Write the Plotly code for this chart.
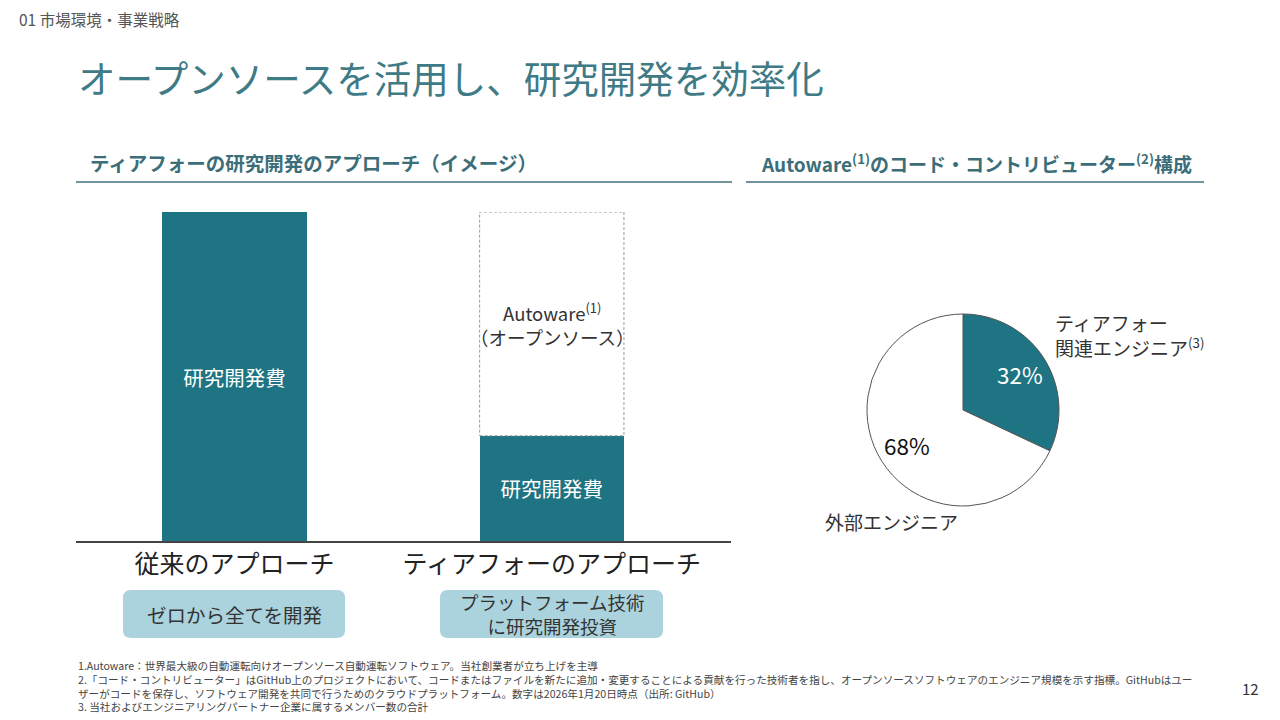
import plotly.graph_objects as go

# --- data ---
categories = ["従来のアプローチ", "ティアフォーのアプローチ"]
rd_cost = [100, 32]          # 研究開発費
open_source = [0, 68]        # Autoware (オープンソース)
bar_labels = ["研究開発費", "研究開発費"]
os_labels = ["", "Autoware<sup>(1)</sup><br>（オープンソース）"]
captions = ["ゼロから全てを開発", "プラットフォーム技術<br>に研究開発投資"]

pie_labels = ["ティアフォー<br>関連エンジニア<sup>(3)</sup>", "外部エンジニア"]
pie_values = [32, 68]

footnotes = [
    "1.Autoware：世界最大級の自動運転向けオープンソース自動運転ソフトウェア。当社創業者が立ち上げを主導",
    "2.「コード・コントリビューター」はGitHub上のプロジェクトにおいて、コードまたはファイルを新たに追加・変更することによる貢献を行った技術者を指し、オープンソースソフトウェアのエンジニア規模を示す指標。GitHubはユー",
    "ザーがコードを保存し、ソフトウェア開発を共同で行うためのクラウドプラットフォーム。数字は2026年1月20日時点（出所: GitHub）",
    "3. 当社およびエンジニアリングパートナー企業に属するメンバー数の合計",
]

TEAL = "#1e7482"
PILL = "#abd3de"
FONT = "Noto Sans CJK JP"
W, H = 1280, 720


def px(x):
    return x / W


def py(y):
    return 1 - y / H


def rounded(x0, y0, x1, y1, r):
    # rounded rectangle path in paper coords, given pixel box
    a, b, c, d = px(x0), py(y0), px(x1), py(y1)
    rx, ry = r / W, r / H
    return (f"M{a+rx},{b} L{c-rx},{b} Q{c},{b} {c},{b-ry} L{c},{d+ry} Q{c},{d} {c-rx},{d} "
            f"L{a+rx},{d} Q{a},{d} {a},{d+ry} L{a},{b-ry} Q{a},{b} {a+rx},{b} Z")


BAR_W = 0.455
fig = go.Figure()

fig.add_trace(go.Bar(
    x=categories, y=rd_cost, width=BAR_W, marker=dict(color=TEAL, line=dict(width=0)),
    text=bar_labels, textposition="inside", insidetextanchor="middle",
    textfont=dict(color="white", size=20.5, family=FONT), textangle=0, showlegend=False,
    hoverinfo="skip",
))
fig.add_trace(go.Bar(
    x=categories, y=open_source, width=BAR_W, marker=dict(color="white", line=dict(width=0)),
    showlegend=False, hoverinfo="skip",
))

annotations = []

# dashed outline + label for the open-source part, from the data
for i, cat in enumerate(categories):
    if open_source[i] > 0:
        fig.add_shape(type="rect", xref="x", yref="y",
                      x0=i - BAR_W / 2, x1=i + BAR_W / 2,
                      y0=rd_cost[i], y1=rd_cost[i] + open_source[i],
                      line=dict(color="#999999", width=1, dash="3px,2px"), layer="above")
        annotations.append(dict(xref="x", yref="y", x=cat, y=rd_cost[i] + open_source[i] / 2,
                                text=os_labels[i], xanchor="center", yanchor="middle",
                                showarrow=False, font=dict(size=18.5, color="#333333")))

fig.add_trace(go.Pie(
    labels=pie_labels, values=pie_values, sort=False, direction="clockwise", rotation=0,
    marker=dict(colors=[TEAL, "white"], line=dict(color="#555555", width=1)),
    textinfo="none",
    domain=dict(x=[px(867), px(1059)], y=[py(506), py(314)]),
    showlegend=False, hoverinfo="skip",
))

fig.update_layout(
    width=W, height=H, margin=dict(l=0, r=0, t=0, b=0),
    paper_bgcolor="white", plot_bgcolor="white",
    barmode="stack", font=dict(family=FONT, color="#333333"),
    xaxis=dict(domain=[px(76), px(731)], range=[-0.5, 1.565], showgrid=False,
               showline=True, linecolor="#444444", linewidth=2, ticks="",
               tickfont=dict(size=25, color="#222222"), fixedrange=True),
    yaxis=dict(domain=[py(541), py(212)], range=[0, 100], visible=False, fixedrange=True),
)

paper_notes = [
    dict(x=px(17), y=py(19), text="01 市場環境・事業戦略", xanchor="left", yanchor="middle",
         font=dict(size=15.5, color="#555555")),
    dict(x=px(76), y=py(77), text="オープンソースを活用し、研究開発を効率化", xanchor="left", yanchor="middle",
         font=dict(size=37.5, color="#3f7b86")),
    dict(x=px(88), y=py(163), text="<b>ティアフォーの研究開発のアプローチ（イメージ）</b>", xanchor="left",
         yanchor="middle", font=dict(size=19.5, color="#3b6e78")),
    dict(x=px(976), y=py(163), text="<b>Autoware<sup>(1)</sup>のコード・コントリビューター<sup>(2)</sup>構成</b>",
         xanchor="center", yanchor="middle", font=dict(size=19, color="#3b6e78")),
    dict(x=px(1053), y=py(335), text=pie_labels[0], xanchor="left", yanchor="middle", align="left",
         font=dict(size=19, color="#333333")),
    dict(x=px(823), y=py(521), text=pie_labels[1], xanchor="left", yanchor="middle",
         font=dict(size=19, color="#333333")),
    dict(x=px(1250), y=py(688), text="12", xanchor="center", yanchor="middle",
         font=dict(size=15, color="#333333")),
    dict(x=px(76), y=py(686), text="<br>".join(footnotes), xanchor="left", yanchor="middle",
         align="left", font=dict(size=10.6, color="#444444")),
]
# slice percentages, text from the pie values
pct_pos = [(1020, 374), (907, 445)]
pct_col = ["white", "#111111"]
for v, (x, y), c in zip(pie_values, pct_pos, pct_col):
    paper_notes.append(dict(x=px(x), y=py(y), text=f"{v}%", xanchor="center", yanchor="middle",
                            font=dict(size=22.5, color=c)))

pill_boxes = [(123, 590, 345, 638), (440, 590, 663, 638)]
pill_sizes = [19.5, 18.5]
for (x0, y0, x1, y1), cap, fs in zip(pill_boxes, captions, pill_sizes):
    fig.add_shape(type="path", xref="paper", yref="paper", path=rounded(x0, y0, x1, y1, 8),
                  fillcolor=PILL, line=dict(width=0), layer="below")
    paper_notes.append(dict(x=px((x0 + x1) / 2), y=py((y0 + y1) / 2), text=cap, xanchor="center",
                            yanchor="middle", font=dict(size=fs, color="#333333")))

# section underlines
fig.add_shape(type="line", xref="paper", yref="paper", x0=px(76), x1=px(732), y0=py(182), y1=py(182),
              line=dict(color="#6f949b", width=2))
fig.add_shape(type="line", xref="paper", yref="paper", x0=px(746), x1=px(1204), y0=py(182), y1=py(182),
              line=dict(color="#6f949b", width=2))

for a in paper_notes:
    a.update(xref="paper", yref="paper", showarrow=False)
fig.update_layout(annotations=annotations + paper_notes)

# drop the browser's default body margin so the figure sits at 0,0
fig.write_html("out.html", config={"displayModeBar": False},
               post_script="document.body.style.margin='0';")
